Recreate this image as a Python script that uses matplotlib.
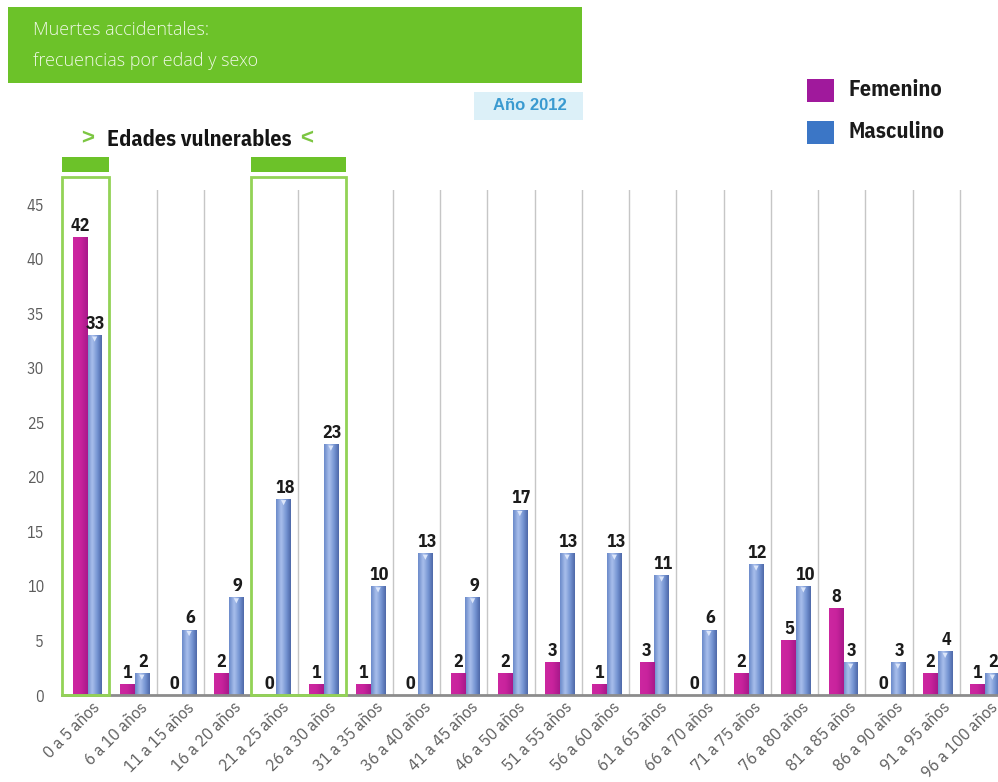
import numpy as np
import matplotlib
matplotlib.use("Agg")
import matplotlib.pyplot as plt
from matplotlib.patches import Rectangle
from matplotlib.colors import LinearSegmentedColormap
import matplotlib.transforms as mtransforms

# ---- data -------------------------------------------------------------
age_groups = ["0 a 5 años", "6 a 10 años", "11 a 15 años", "16 a 20 años",
              "21 a 25 años", "26 a 30 años", "31 a 35 años", "36 a 40 años",
              "41 a 45 años", "46 a 50 años", "51 a 55 años", "56 a 60 años",
              "61 a 65 años", "66 a 70 años", "71 a 75 años", "76 a 80 años",
              "81 a 85 años", "86 a 90 años", "91 a 95 años", "96 a 100 años"]
femenino = [42, 1, 0, 2, 0, 1, 1, 0, 2, 2, 3, 1, 3, 0, 2, 5, 8, 0, 2, 1]
masculino = [33, 2, 6, 9, 18, 23, 10, 13, 9, 17, 13, 13, 11, 6, 12, 10, 3, 3, 4, 2]
y_ticks = [0, 5, 10, 15, 20, 25, 30, 35, 40, 45]
vulnerable_groups = [(0, 0), (4, 5)]   # first/last index of each highlighted span

# ---- styling ----------------------------------------------------------
W, H = 998, 782
NARROW = ["IBM Plex Sans Condensed", "DejaVu Sans"]
LIGHT = ["Open Sans", "DejaVu Sans"]
GREEN = "#6cc229"
BOX_GREEN = "#93d356"
FEM = "#c4209a"
MASC = "#6c8bcb"

fig = plt.figure(figsize=(W / 100, H / 100), dpi=100)
fig.patch.set_facecolor("white")

def fx(px):
    return px / W

def fy(py):
    return 1 - py / H

ax_left, ax_right, ax_top, ax_bottom = 62, 1007, 190, 695
ax = fig.add_axes([fx(ax_left), fy(ax_bottom), (ax_right - ax_left) / W,
                   (ax_bottom - ax_top) / H])
ymax = 46.3
n = len(age_groups)

x = np.arange(n)
bw = 0.31
off_f, off_m = -0.12, 0.19

# group separators
for b in np.arange(0.5, n - 0.5, 1.0):
    ax.axvline(b, color="#c6c6c6", lw=1.0, zorder=0)

bars_f = ax.bar(x + off_f, femenino, width=bw, color=FEM, zorder=2)
bars_m = ax.bar(x + off_m, masculino, width=bw, color=MASC, zorder=2)

# cylinder-like shading on the bars
cm_m = LinearSegmentedColormap.from_list(
    "masc", [(0, "#6a89c9"), (0.35, "#a9bfec"), (0.7, "#7493d2"), (1, "#4d68a8")])
cm_f = LinearSegmentedColormap.from_list(
    "fem", [(0, "#cc27a0"), (0.5, "#c9239d"), (1, "#a8188a")])
grad = np.linspace(0, 1, 64).reshape(1, -1)
for bars, cmap in ((bars_m, cm_m), (bars_f, cm_f)):
    for p in bars:
        h = p.get_height()
        if h <= 0:
            continue
        x0 = p.get_x()
        im = ax.imshow(grad, cmap=cmap, aspect="auto", zorder=2.5,
                       extent=[x0, x0 + p.get_width(), 0, h], interpolation="bicubic")
        im.set_clip_path(p)

# light cap highlight at the top of each cylinder
cap = ax.transData + mtransforms.ScaledTranslation(0, -4 / 100, fig.dpi_scale_trans)
mx = [xi + off_m for xi, v in zip(x, masculino) if v > 0]
mv = [v for v in masculino if v > 0]
ax.scatter(mx, mv, marker="v", s=14, color="#dce6fa", edgecolors="none",
           zorder=2.8, transform=cap, clip_on=False)

ax.set_xlim(-0.5, n - 0.5)
ax.set_ylim(0, ymax)

# value labels
for xi, v in zip(x, femenino):
    ax.annotate(str(v), (xi + off_f, v), xytext=(0, 1.5), textcoords="offset points",
                ha="center", va="bottom", fontsize=13, fontweight="bold",
                family=NARROW, color="#1b1b1b", zorder=4)
for xi, v in zip(x, masculino):
    ax.annotate(str(v), (xi + off_m, v), xytext=(1, 1.5), textcoords="offset points",
                ha="center", va="bottom", fontsize=13, fontweight="bold",
                family=NARROW, color="#1b1b1b", zorder=4, annotation_clip=False)

# axes decoration
for s in ("top", "right", "left"):
    ax.spines[s].set_visible(False)
ax.spines["bottom"].set_color("#8c8c8c")
ax.spines["bottom"].set_linewidth(2)
ax.set_yticks(y_ticks)
ax.set_yticklabels([str(t) for t in y_ticks], family=NARROW, fontsize=11.5,
                   color="#5c5c5c")
ax.tick_params(axis="y", length=0, pad=13)
ax.set_xticks(x)
ax.set_xticklabels(age_groups, rotation=45, ha="right", rotation_mode="anchor",
                   family=NARROW, fontsize=12.5, color="#5e5e5e")
ax.tick_params(axis="x", length=0, pad=3)
shift = mtransforms.ScaledTranslation(6 / 100, 0, fig.dpi_scale_trans)
for lab in ax.get_xticklabels():
    lab.set_transform(lab.get_transform() + shift)

# highlighted "vulnerable" spans: outline box plus a solid header bar
px_per_unit = (ax_bottom - ax_top) / ymax
box_top = (ax_bottom - 177) / px_per_unit
hdr_lo = (ax_bottom - 172) / px_per_unit
hdr_hi = (ax_bottom - 157) / px_per_unit
for i0, i1 in vulnerable_groups:
    ax.add_patch(Rectangle((i0 - 0.5, 0), i1 - i0 + 1, box_top, fill=False,
                           edgecolor=BOX_GREEN, lw=2, clip_on=False, zorder=3))
    ax.add_patch(Rectangle((i0 - 0.5, hdr_lo), i1 - i0 + 1, hdr_hi - hdr_lo,
                           facecolor=GREEN, edgecolor="none", clip_on=False, zorder=3))

# ---- header ----------------------------------------------------------
fig.patches.append(Rectangle((fx(8), fy(83)), fx(582) - fx(8), fy(7) - fy(83),
                             transform=fig.transFigure, facecolor=GREEN,
                             edgecolor="none", zorder=0))
fig.text(fx(33), fy(30), "Muertes accidentales:", fontsize=13, color="#eef8e4",
         family=LIGHT, fontweight="light", va="center", ha="left")
fig.text(fx(33), fy(61), "frecuencias por edad y sexo", fontsize=13, color="#eef8e4",
         family=LIGHT, fontweight="light", va="center", ha="left")

fig.patches.append(Rectangle((fx(474), fy(120)), fx(583) - fx(474), fy(92) - fy(120),
                             transform=fig.transFigure, facecolor="#dcf0f8",
                             edgecolor="none", zorder=0))
fig.text(fx(530), fy(106), "Año 2012", fontsize=12, color="#3a9ad0",
         fontweight="bold", family=["Liberation Sans", "DejaVu Sans"],
         va="center", ha="center")

fig.text(fx(88), fy(139), ">", fontsize=16, color="#7cc642", fontweight="bold",
         family=["Liberation Sans", "DejaVu Sans"], va="center", ha="center")
fig.text(fx(107), fy(139), "Edades vulnerables", fontsize=15.8, color="#151515",
         fontweight="bold", family=NARROW, va="center", ha="left")
fig.text(fx(307), fy(139), "<", fontsize=16, color="#7cc642", fontweight="bold",
         family=["Liberation Sans", "DejaVu Sans"], va="center", ha="center")

# ---- legend ------------------------------------------------------------
for (top, col, name) in ((79, "#a0199c", "Femenino"), (121, "#3b76c6", "Masculino")):
    fig.patches.append(Rectangle((fx(807), fy(top + 23)), fx(834) - fx(807), 23 / H,
                                 transform=fig.transFigure, facecolor=col,
                                 edgecolor="none"))
    fig.text(fx(848), fy(top + 11), name, fontsize=16, fontweight="bold",
             family=NARROW, color="#1b1b1b", va="center", ha="left")

fig.savefig("out.png", dpi=100, facecolor="white")
